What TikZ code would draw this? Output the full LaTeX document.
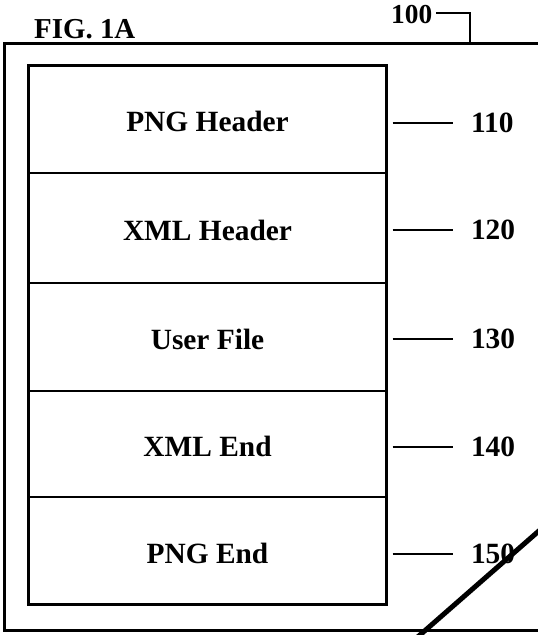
\documentclass[tikz,border=0pt]{standalone}
\usepackage{fontspec}
\setmainfont{Liberation Serif}
\begin{document}
\begin{tikzpicture}[x=1bp,y=-1bp,
  section/.style={draw,line width=2.3bp,minimum width=357bp,inner sep=0pt,outer sep=0pt},
  boxtext/.style={inner sep=0pt,outer sep=0pt,font=\fontsize{29.5}{31}\selectfont\bfseries},
  reflabel/.style={inner sep=0pt,outer sep=0pt,anchor=west,font=\fontsize{29.5}{31}\selectfont\bfseries},
  leader/.style={line width=2bp},
  frame/.style={line width=3bp},
]
\useasboundingbox (0,0) rectangle (538,635);
% sections
\node[section,minimum height=106.7bp] (s1) at (207.5,119.35) {};
\node[section,minimum height=110.6bp] (s2) at (207.5,228) {};
\node[section,minimum height=107.4bp] (s3) at (207.5,337) {};
\node[section,minimum height=106.6bp] (s4) at (207.5,444) {};
\node[section,minimum height=106.7bp] (s5) at (207.5,550.65) {};
\node[boxtext] (t1) at ([yshift=-2.5bp]s1.center) {PNG Header};
\node[boxtext] (t2) at ([yshift=-2.5bp]s2.center) {XML Header};
\node[boxtext] (t3) at ([yshift=-2.5bp]s3.center) {User File};
\node[boxtext] (t4) at ([yshift=-2.5bp]s4.center) {XML End};
\node[boxtext] (t5) at ([yshift=-2.5bp]s5.center) {PNG End};
\draw[frame] (s1.north west) rectangle (s5.south east);
% outer frame
\draw[frame] (540,43.3) -- (4,43.3) -- (4,630) -- (540,630);
% labels
\node[reflabel] (r110) at (471,123.3) {110};
\node[reflabel] (r120) at (471,230) {120};
\node[reflabel] (r130) at (471,339.3) {130};
\node[reflabel] (r140) at (471,446.7) {140};
\node[reflabel] (r150) at (471,554) {150};
\coordinate (l1) at (392.7,123.3);
\coordinate (l2) at (392.7,230);
\coordinate (l3) at (392.7,339.3);
\coordinate (l4) at (392.7,446.7);
\coordinate (l5) at (392.7,554);
\foreach \a/\b in {l1/r110,l2/r120,l3/r130,l4/r140,l5/r150}
  \draw[leader,shorten >=18.5bp] (\a) -- (\b.west);
% 100 reference
\node[inner sep=0pt,outer sep=0pt,font=\fontsize{27.5}{29}\selectfont\bfseries] (r100) at (411.7,15) {100};
\coordinate (k1) at (436,13.3);
\coordinate (c100) at (470,43.3);
\draw[leader] (k1) -| (c100);
% title
\node[inner sep=0pt,anchor=base west,font=\fontsize{29}{31}\selectfont\bfseries] (fig) at (34,39) {FIG. 1A};
% diagonal break line
\draw[line width=5bp] (416.5,638) -- (542,528.2);
\end{tikzpicture}
\end{document}
